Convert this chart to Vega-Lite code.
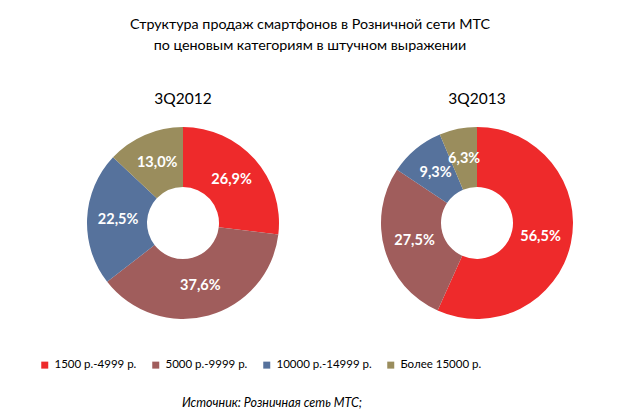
{
  "$schema": "https://vega.github.io/schema/vega-lite/v6.json",
  "background": "white",
  "padding": {"left": 39, "top": 18, "right": 20, "bottom": 5},
  "title": {
    "text": ["Структура продаж смартфонов в Розничной сети МТС", "по ценовым категориям в штучном выражении"],
    "font": "Lato",
    "fontSize": 14.3,
    "fontWeight": "normal",
    "color": "#000000",
    "lineHeight": 21,
    "anchor": "middle",
    "dx": 2,
    "offset": 38
  },
  "data": {
    "values": [
      {"period": "3Q2012", "idx": 1, "cat": "1500 р.-4999 р.", "share": 26.9, "label": "26,9%"},
      {"period": "3Q2012", "idx": 2, "cat": "5000 р.-9999 р.", "share": 37.6, "label": "37,6%"},
      {"period": "3Q2012", "idx": 3, "cat": "10000 р.-14999 р.", "share": 22.5, "label": "22,5%"},
      {"period": "3Q2012", "idx": 4, "cat": "Более 15000 р.", "share": 13.0, "label": "13,0%"},
      {"period": "3Q2013", "idx": 1, "cat": "1500 р.-4999 р.", "share": 56.5, "label": "56,5%"},
      {"period": "3Q2013", "idx": 2, "cat": "5000 р.-9999 р.", "share": 27.5, "label": "27,5%"},
      {"period": "3Q2013", "idx": 3, "cat": "10000 р.-14999 р.", "share": 9.3, "label": "9,3%"},
      {"period": "3Q2013", "idx": 4, "cat": "Более 15000 р.", "share": 6.3, "label": "6,3%"}
    ]
  },
  "vconcat": [
    {
      "hconcat": [
        {
          "title": {"text": "3Q2012"},
          "width": 200,
          "height": 200,
          "transform": [{"filter": "datum.period == '3Q2012'"}],
          "encoding": {
            "theta": {"field": "share", "type": "quantitative", "stack": true},
            "order": {"field": "idx", "type": "quantitative"}
          },
          "layer": [
            {
              "mark": {"type": "arc", "outerRadius": 96, "innerRadius": 36},
              "encoding": {
                "color": {
                  "field": "cat",
                  "type": "nominal",
                  "title": null,
                  "scale": {
                    "domain": ["1500 р.-4999 р.", "5000 р.-9999 р.", "10000 р.-14999 р.", "Более 15000 р."],
                    "range": ["#EE2A2B", "#A05D5C", "#56729C", "#9A8D5D"]
                  }
                }
              }
            },
            {
              "mark": {"type": "text", "radius": 65, "color": "white", "fontWeight": "bold", "fontSize": 14.5, "font": "Lato"},
              "encoding": {
                "detail": {"field": "cat", "type": "nominal"},
                "text": {"field": "label", "type": "nominal"}
              }
            }
          ]
        },
        {
          "title": {"text": "3Q2013"},
          "width": 200,
          "height": 200,
          "transform": [{"filter": "datum.period == '3Q2013'"}],
          "encoding": {
            "theta": {"field": "share", "type": "quantitative", "stack": true},
            "order": {"field": "idx", "type": "quantitative"}
          },
          "layer": [
            {
              "mark": {"type": "arc", "outerRadius": 96, "innerRadius": 36},
              "encoding": {
                "color": {"field": "cat", "type": "nominal", "title": null}
              }
            },
            {
              "mark": {"type": "text", "radius": 65, "color": "white", "fontWeight": "bold", "fontSize": 14.5, "font": "Lato"},
              "encoding": {
                "detail": {"field": "cat", "type": "nominal"},
                "text": {"field": "label", "type": "nominal"}
              }
            }
          ]
        }
      ],
      "spacing": 94,
      "resolve": {"scale": {"theta": "independent"}}
    },
    {
      "width": 378,
      "height": 20,
      "data": {"values": [{"src": "Источник: Розничная сеть МТС;"}]},
      "mark": {"type": "text", "font": "Lato", "fontSize": 12.5, "fontStyle": "italic", "color": "#000000"},
      "encoding": {"text": {"field": "src", "type": "nominal"}}
    }
  ],
  "spacing": 70,
  "config": {
    "view": {"stroke": null},
    "title": {"font": "Lato", "fontSize": 15.5, "fontWeight": "normal", "color": "#000000", "offset": 16},
    "legend": {
      "orient": "none",
      "legendX": -44,
      "legendY": 236,
      "direction": "horizontal",
      "symbolType": "square",
      "symbolSize": 49,
      "symbolStrokeWidth": 0,
      "symbolOpacity": 1,
      "labelFont": "Lato",
      "labelFontSize": 11.5,
      "labelColor": "#000000",
      "labelOffset": 4,
      "labelLimit": 300,
      "columnPadding": 13
    }
  }
}
